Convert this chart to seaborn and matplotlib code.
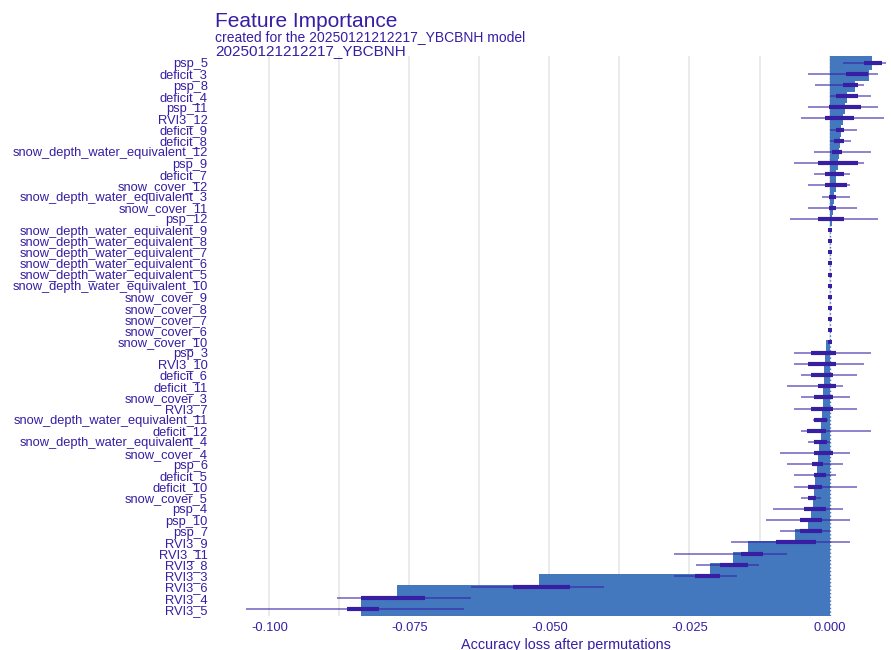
import numpy as np
import pandas as pd
import seaborn as sns
import matplotlib.pyplot as plt

# variables, ordered top to bottom as in the plot
features = [
    "psp_5", "deficit_3", "psp_8", "deficit_4", "psp_11", "RVI3_12", "deficit_9",
    "deficit_8", "snow_depth_water_equivalent_12", "psp_9", "deficit_7",
    "snow_cover_12", "snow_depth_water_equivalent_3", "snow_cover_11", "psp_12",
    "snow_depth_water_equivalent_9", "snow_depth_water_equivalent_8",
    "snow_depth_water_equivalent_7", "snow_depth_water_equivalent_6",
    "snow_depth_water_equivalent_5", "snow_depth_water_equivalent_10",
    "snow_cover_9", "snow_cover_8", "snow_cover_7", "snow_cover_6", "snow_cover_10",
    "psp_3", "RVI3_10", "deficit_6", "deficit_11", "snow_cover_3", "RVI3_7",
    "snow_depth_water_equivalent_11", "deficit_12", "snow_depth_water_equivalent_4",
    "snow_cover_4", "psp_6", "deficit_5", "deficit_10", "snow_cover_5", "psp_4",
    "psp_10", "psp_7", "RVI3_9", "RVI3_11", "RVI3_8", "RVI3_3", "RVI3_6", "RVI3_4",
    "RVI3_5",
]

# mean loss after permutation (bar)
mean_loss = [
    0.0075, 0.0071, 0.0046, 0.0031, 0.0028, 0.0024, 0.0021, 0.0019, 0.0017, 0.0015,
    0.0012, 0.0011, 0.0008, 0.0007, 0.0004, 0.0, 0.0, 0.0, 0.0, 0.0,
    0.0, 0.0, 0.0, 0.0, 0.0, 0.0, -0.0006, -0.0008, -0.0009, -0.0010,
    -0.0011, -0.0012, -0.0013, -0.0015, -0.0016, -0.0018, -0.0020, -0.0022, -0.0026, -0.0028,
    -0.0030, -0.0033, -0.0039, -0.0062, -0.0146, -0.0173, -0.0214, -0.0518, -0.0773, -0.0836,
]

# boxplot summaries over permutations
q1 = [
    0.0061, 0.0030, 0.0024, 0.0011, -0.0001, -0.0008, 0.0011, 0.0008, 0.0005, -0.0020,
    -0.0008, -0.0008, -0.0001, -0.0001, -0.0021, 0.0, 0.0, 0.0, 0.0, 0.0,
    0.0, 0.0, 0.0, 0.0, 0.0, 0.0, -0.0033, -0.0039, -0.0033, -0.0021,
    -0.0027, -0.0033, -0.0027, -0.0040, -0.0027, -0.0027, -0.0031, -0.0027, -0.0039, -0.0039,
    -0.0046, -0.0052, -0.0052, -0.0096, -0.0158, -0.0195, -0.0240, -0.0566, -0.0836, -0.0861,
]
q3 = [
    0.0094, 0.0068, 0.0051, 0.0051, 0.0057, 0.0043, 0.0025, 0.0026, 0.0022, 0.0051,
    0.0025, 0.0031, 0.0012, 0.0012, 0.0025, 0.0, 0.0, 0.0, 0.0, 0.0,
    0.0, 0.0, 0.0, 0.0, 0.0, 0.0, 0.0012, 0.0012, 0.0006, 0.0012,
    0.0006, 0.0006, -0.0005, -0.0006, -0.0005, 0.0006, -0.0012, -0.0006, -0.0013, -0.0024,
    -0.0006, -0.0013, -0.0013, -0.0025, -0.0119, -0.0145, -0.0195, -0.0464, -0.0722, -0.0804,
]
whisker_lo = [
    0.0024, -0.0039, -0.0026, 0.0000, -0.0039, -0.0051, 0.0000, 0.0000, -0.0027, -0.0064,
    -0.0027, -0.0039, -0.0014, -0.0039, -0.0071, 0.0, 0.0, 0.0, 0.0, 0.0,
    0.0, 0.0, 0.0, 0.0, 0.0, 0.0, -0.0064, -0.0064, -0.0051, -0.0076,
    -0.0051, -0.0064, -0.0030, -0.0051, -0.0039, -0.0088, -0.0076, -0.0063, -0.0063, -0.0051,
    -0.0101, -0.0113, -0.0088, -0.0176, -0.0277, -0.0238, -0.0277, -0.0640, -0.0879, -0.1042,
]
whisker_hi = [
    0.0101, 0.0086, 0.0061, 0.0074, 0.0086, 0.0098, 0.0049, 0.0038, 0.0074, 0.0062,
    0.0037, 0.0036, 0.0037, 0.0049, 0.0086, 0.0, 0.0, 0.0, 0.0, 0.0,
    0.0, 0.0, 0.0, 0.0, 0.0, 0.0, 0.0074, 0.0062, 0.0049, 0.0024,
    0.0037, 0.0049, -0.0003, 0.0074, 0.0000, 0.0037, 0.0024, 0.0012, 0.0049, -0.0015,
    0.0024, 0.0036, 0.0000, 0.0036, -0.0076, -0.0126, -0.0165, -0.0402, -0.0641, -0.0653,
]

major_ticks = [-0.1, -0.075, -0.05, -0.025, 0.0]
major_labels = ["-0.100", "-0.075", "-0.050", "-0.025", "0.000"]
minor_ticks = [-0.0875, -0.0625, -0.0375, -0.0125, 0.0125]

purple = "#371ea3"
blue = "#4378bf"

sns.set_style("white")
plt.rcParams['font.family'] = ['Liberation Sans', 'DejaVu Sans']

df = pd.DataFrame({"variable": features, "loss": mean_loss,
                   "q1": q1, "q3": q3, "lo": whisker_lo, "hi": whisker_hi})
df["pos"] = np.arange(len(df))

fig = plt.figure(figsize=(8.91, 6.5), dpi=100)
ax = fig.add_axes([214/891, 34/650, 704/891, 560/650])

ax.axvline(0, color=blue, ls=":", lw=1, zorder=1)

sns.barplot(data=df, x="loss", y="variable", order=features, orient="h",
            color=blue, saturation=1, width=1.79, linewidth=0,
            errorbar=None, ax=ax, zorder=2)
# bars sit a little above the row centre, like the ggplot linerange
for p in ax.patches:
    p.set_y(p.get_y() - 0.27)

ax.hlines(df["pos"], df["lo"], df["hi"], color=purple, alpha=0.7, lw=1.1, zorder=3)
ax.hlines(df["pos"], df["q1"], df["q3"], color=purple, lw=3, zorder=4)
flat = df[df["q1"] == df["q3"]]
ax.scatter(flat["q1"], flat["pos"], marker="s", s=5, color=purple, lw=0, zorder=5)

ax.set_xlim(-0.1099, 0.0158)
ax.set_ylim(49.6, -0.6)
ax.set_xticks(major_ticks)
ax.set_xticklabels(major_labels)
ax.set_xticks(minor_ticks, minor=True)
ax.grid(axis="x", which="both", color="#e6e6e6", lw=1.1)
ax.grid(axis="y", visible=False)
ax.set_axisbelow(True)
ax.tick_params(axis="both", which="both", length=0, labelcolor=purple, labelsize=9.3)
ax.tick_params(axis="y", pad=4.5)
ax.tick_params(axis="x", pad=4)
ax.set_ylabel("")
ax.set_xlabel("Accuracy loss after permutations", color=purple, fontsize=10.4, labelpad=3)
sns.despine(ax=ax, left=True, bottom=True)

fig.text(215/891, 1 - 26.7/650, "Feature Importance", color=purple, fontsize=15, va="baseline")
fig.text(215/891, 1 - 40.7/650, "created for the 20250121212217_YBCBNH model",
         color=purple, fontsize=10, va="baseline")
fig.text(215/891, 1 - 55/650, "20250121212217_YBCBNH", color=purple, fontsize=11, va="baseline")

fig.savefig("out.png", dpi=100)
